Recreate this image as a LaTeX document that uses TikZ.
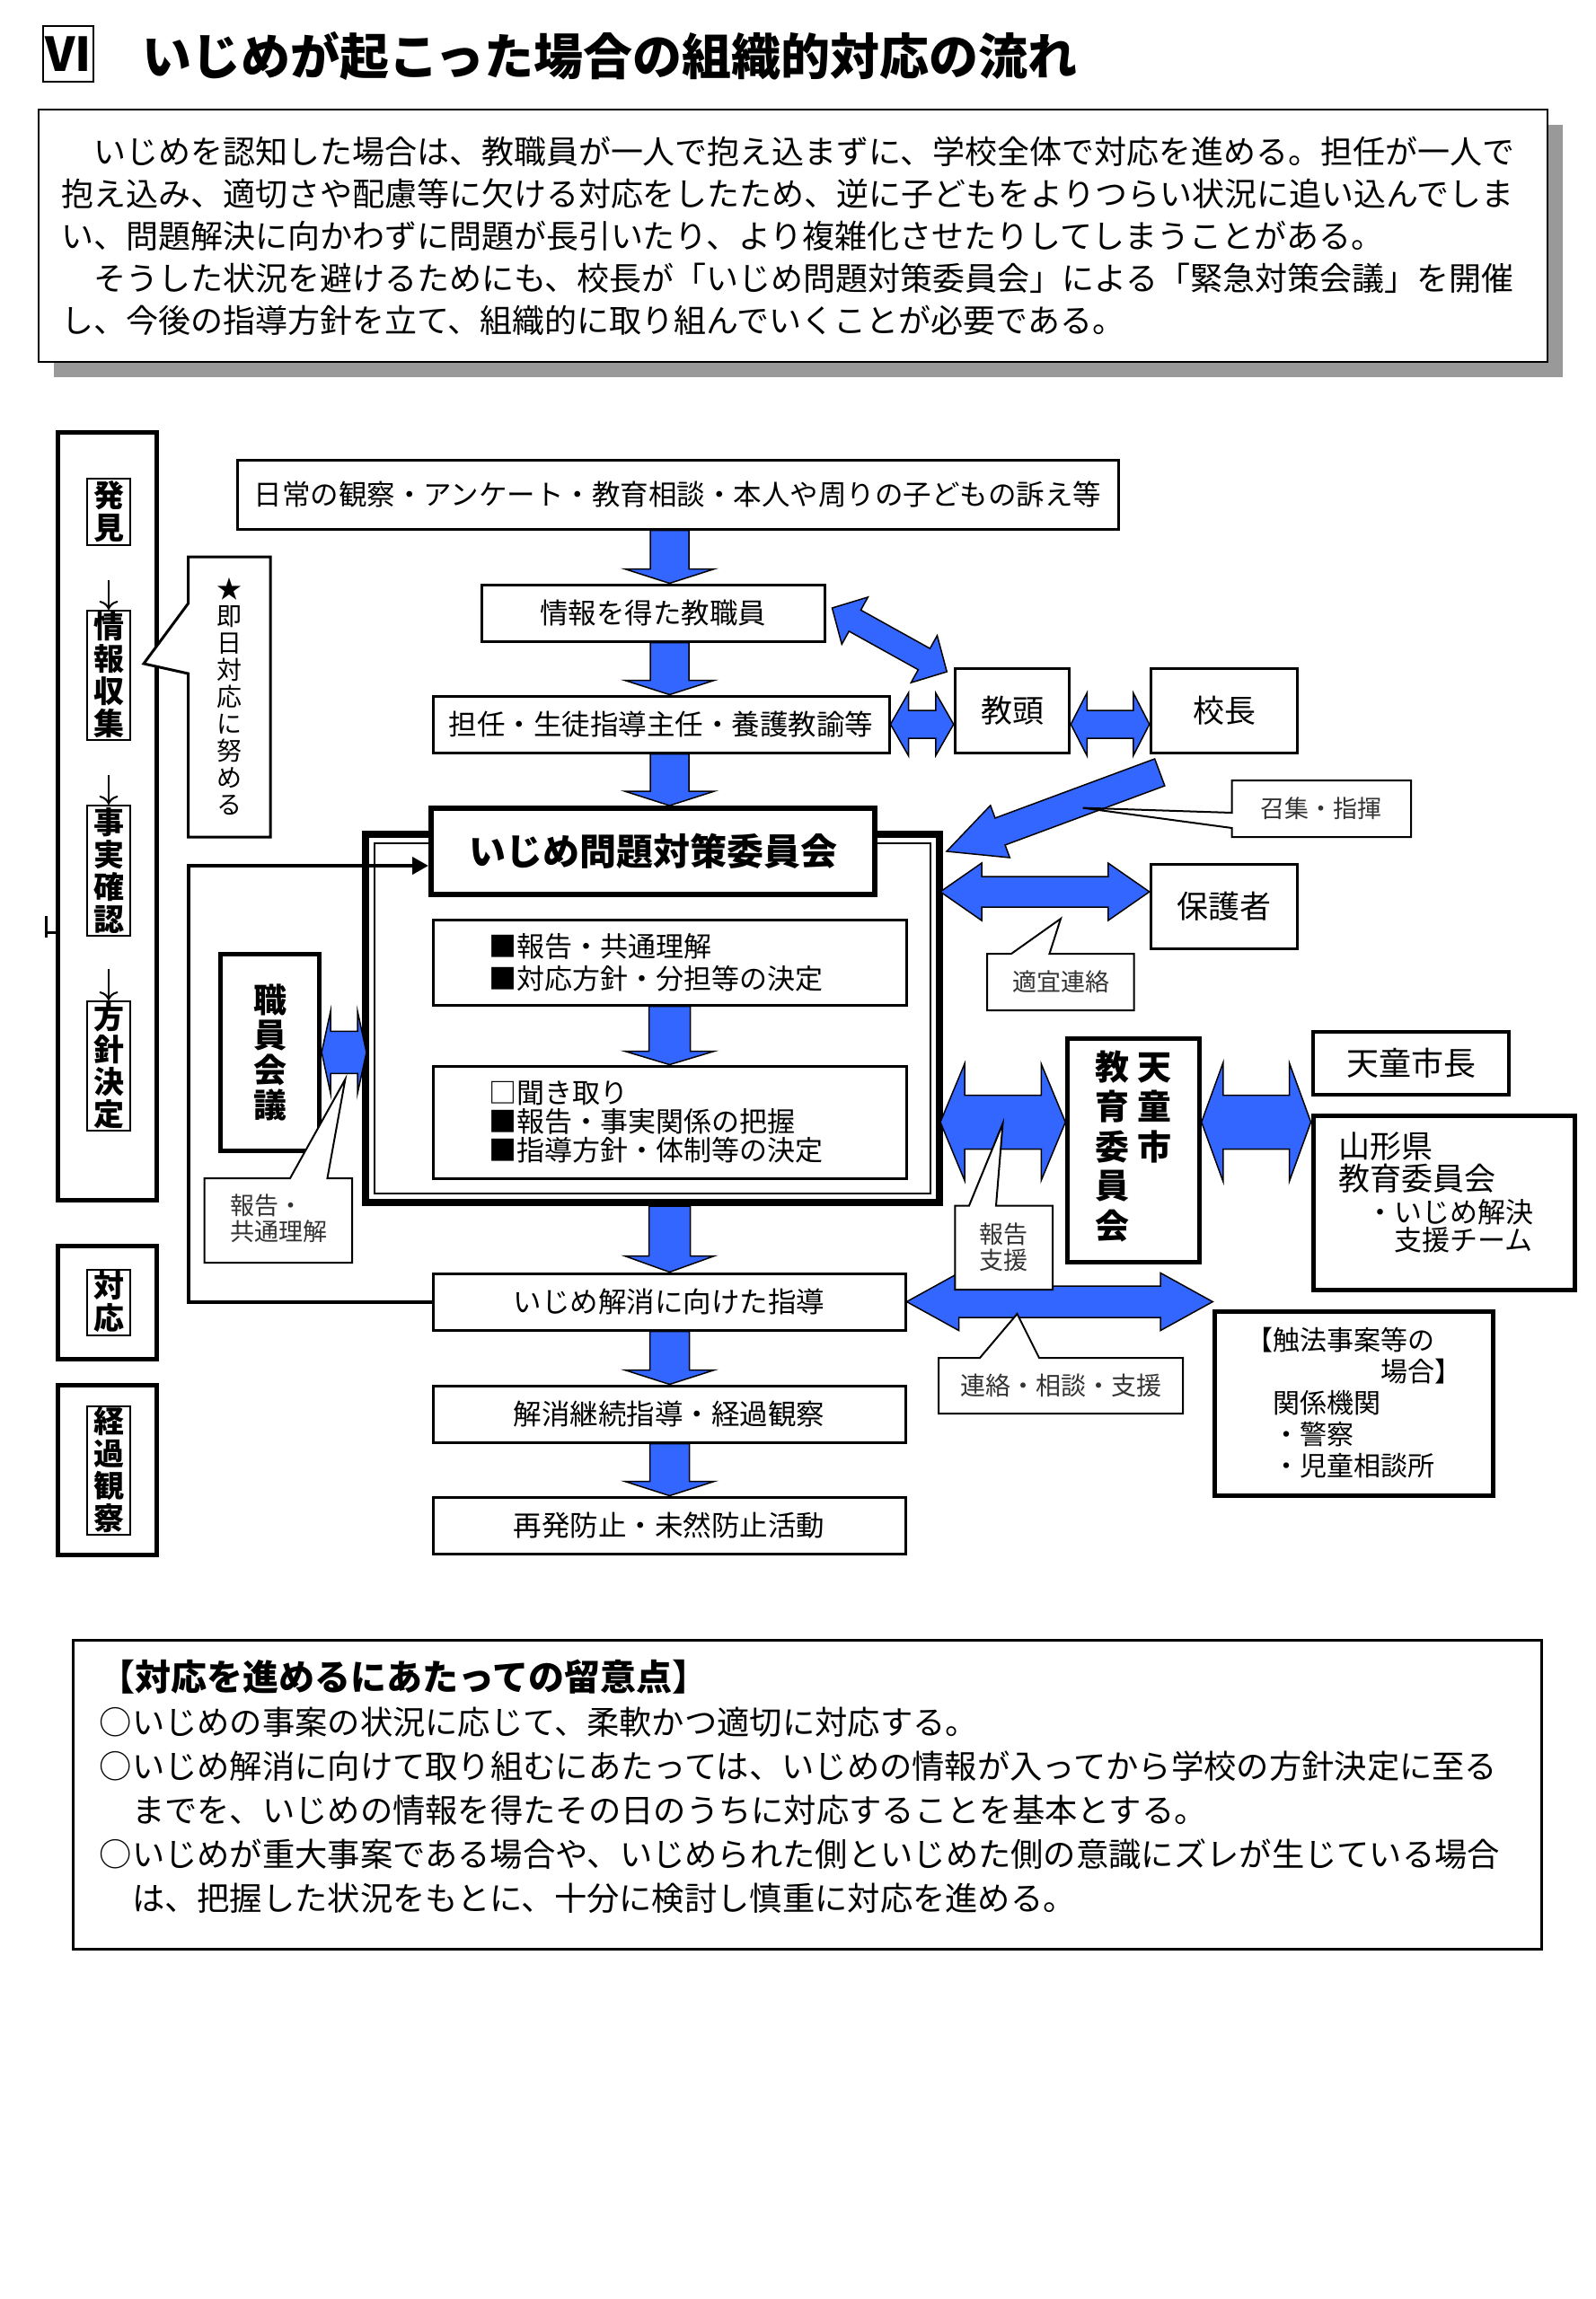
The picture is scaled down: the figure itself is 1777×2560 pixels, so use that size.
\documentclass[tikz,border=0pt]{standalone}
\usepackage{fontspec}
\setmainfont{Noto Sans CJK JP}
\usepackage{xcolor}
\usepackage{tikz}
\usetikzlibrary{calc,arrows.meta,shadows}

\definecolor{arrowblue}{RGB}{51,102,255}
\newcommand{\fsz}[2]{\fontsize{#1mm}{#2mm}\selectfont}

\newcommand{\fatarrow}[5]{%
  \coordinate (fa-a) at (#1);
  \coordinate (fa-b) at (#2);
  \coordinate (fa-h) at ($(fa-b)!#5!(fa-a)$);
  \filldraw[fat] ($(fa-a)!#3!90:(fa-b)$) -- ($(fa-h)!#3!90:(fa-b)$) -- ($(fa-h)!#4!90:(fa-b)$) -- (fa-b)
    -- ($(fa-h)!#4!-90:(fa-b)$) -- ($(fa-h)!#3!-90:(fa-b)$) -- ($(fa-a)!#3!-90:(fa-b)$) -- cycle;}

\newcommand{\fatdblarrow}[5]{%
  \coordinate (fd-a) at (#1);
  \coordinate (fd-b) at (#2);
  \coordinate (fd-ha) at ($(fd-a)!#5!(fd-b)$);
  \coordinate (fd-hb) at ($(fd-b)!#5!(fd-a)$);
  \filldraw[fat] (fd-a) -- ($(fd-ha)!#4!90:(fd-b)$) -- ($(fd-ha)!#3!90:(fd-b)$) -- ($(fd-hb)!#3!-90:(fd-a)$)
    -- ($(fd-hb)!#4!-90:(fd-a)$) -- (fd-b) -- ($(fd-hb)!#4!90:(fd-a)$) -- ($(fd-hb)!#3!90:(fd-a)$)
    -- ($(fd-ha)!#3!-90:(fd-b)$) -- ($(fd-ha)!#4!-90:(fd-b)$) -- cycle;}

\begin{document}
\begin{tikzpicture}[x=0.1mm, y=-0.1mm,
  box/.style={draw, fill=white, line width=0.3mm, inner sep=0pt, font=\fsz{3.15}{3.6}},
  bbox/.style={box, line width=0.5mm},
  wh/.style 2 args={minimum width=#1mm, minimum height=#2mm},
  stagebox/.style={draw, line width=0.5mm, inner sep=0pt, minimum width=11mm},
  stagelabel/.style={draw, line width=0.2mm, inner sep=0pt, minimum width=4.8mm, align=center, font=\bfseries\fsz{3.4}{3.6}},
  callout/.style={draw, fill=white, line width=0.2mm, line join=miter},
  note/.style={align=center, text=black!80, font=\fsz{2.7}{2.9}},
  fat/.style={fill=arrowblue, draw=black, line width=0.15mm, line join=miter}]
\useasboundingbox (0,0) rectangle (1777,2560);

% title
\node[draw, line width=0.2mm, inner sep=0pt, wh={5.6}{6.2}, font=\bfseries\fsz{5.2}{5.2}] (vi) at (76,60) {VI};
\node[anchor=west, inner sep=0pt, font=\bfseries\fsz{5.5}{5.5}] (title) at (158,62) {いじめが起こった場合の組織的対応の流れ};

\node[draw, fill=white, line width=0.25mm, inner xsep=2.5mm, inner ysep=0pt, minimum height=28.1mm, text width=163mm, align=left, font=\fsz{3.6}{4.7},
  drop shadow={shadow xshift=1.7mm, shadow yshift=-1.7mm, fill=black!40, opacity=1}] (intro) at (883,262.5) {%
　いじめを認知した場合は、教職員が一人で抱え込まずに、学校全体で対応を進める。担任が一人で\\
抱え込み、適切さや配慮等に欠ける対応をしたため、逆に子どもをよりつらい状況に追い込んでしま\\
い、問題解決に向かわずに問題が長引いたり、より複雑化させたりしてしまうことがある。\\
　そうした状況を避けるためにも、校長が「いじめ問題対策委員会」による「緊急対策会議」を開催\\
し、今後の指導方針を立て、組織的に取り組んでいくことが必要である。};

% left column
\node[stagebox, minimum height=85.5mm] (stage) at (119,908.5) {};
\node[stagelabel, minimum height=7.4mm] (hakken) at (121,570) {発\\見};
\node[stagelabel, minimum height=14.4mm, node distance=18.2mm, below of=hakken] (joho) {情\\報\\収\\集};
\node[stagelabel, minimum height=14.5mm, node distance=21.75mm, below of=joho] (jijitsu) {事\\実\\確\\認};
\node[stagelabel, minimum height=14.4mm, node distance=21.75mm, below of=jijitsu] (hoshin) {方\\針\\決\\定};
\draw[->, line width=0.2mm, shorten <=3.8mm] (hakken) -- (joho);
\draw[->, line width=0.2mm, shorten <=3.8mm] (joho) -- (jijitsu);
\draw[->, line width=0.2mm, shorten <=3.6mm] (jijitsu) -- (hoshin);
\draw[line width=0.3mm] (51.5,1019.5) -- (51.5,1043.6) (51.5,1038) -- (64,1038);

\node[stagebox, minimum height=12.6mm] (taio) at (119,1450) {};
\node[stagelabel, minimum height=7.3mm] (taio_l) at (121,1450) {対\\応};
\node[stagebox, minimum height=18.9mm] (keika) at (119,1636.5) {};
\node[stagelabel, minimum height=14.3mm] (keika_l) at (121,1637) {経\\過\\観\\察};

\draw[callout, line width=0.3mm] (209.5,620) -- (301,620) -- (301,932) -- (209.5,932) -- (209.5,750) -- (160,739) -- (209.5,672) -- cycle;
\node[note, text=black, font=\fsz{2.8}{3.0}] (sokujitsu) at (255,776) {★\\即\\日\\対\\応\\に\\努\\め\\る};

\node[bbox, wh={11}{21.85}, align=center, font=\bfseries\fsz{3.7}{3.9}] (shokuin) at (300.6,1171.75) {職\\員\\会\\議};

% main column
\node[draw, line width=0.8mm, inner sep=0pt, wh={63.9}{41}] (frame) at (726.5,1134) {};
\draw[line width=0.2mm] ($(frame.north west)+(14,14)$) rectangle ($(frame.south east)+(-14,-14)$);

\node[box, wh={98.1}{7.7}] (obs) at (754.5,550.5) {日常の観察・アンケート・教育相談・本人や周りの子どもの訴え等};
\node[box, wh={38.2}{6.3}, node distance=13.2mm, below of=obs, xshift=-2.75mm] (info) {情報を得た教職員};
\node[box, wh={50.8}{6.3}, node distance=12.4mm, below of=info, xshift=0.9mm] (tannin) {担任・生徒指導主任・養護教諭等};
\node[box, line width=0.6mm, wh={49.4}{9.6}, font=\bfseries\fsz{4.1}{4.1}, node distance=14.15mm, below of=tannin, xshift=-0.9mm] (iinkai) {いじめ問題対策委員会};
\node[box, minimum height=9.5mm, text width=40.3mm, inner xsep=6.2mm, align=left, font=\fsz{3.1}{3.6}, node distance=12.35mm, below of=iinkai, xshift=1.85mm] (hokoku) {■報告・共通理解\\■対応方針・分担等の決定};
\node[box, minimum height=12.5mm, text width=40.3mm, inner xsep=6.2mm, align=left, font=\fsz{3.1}{3.2}, node distance=17.8mm, below of=hokoku] (kikitori) {□聞き取り\\■報告・事実関係の把握\\■指導方針・体制等の決定};
\node[box, wh={52.6}{6.3}, node distance=20mm, below of=kikitori, xshift=-0.05mm] (kaisho) {いじめ解消に向けた指導};
\node[box, wh={52.6}{6.3}, node distance=12.5mm, below of=kaisho] (keizoku) {解消継続指導・経過観察};
\node[box, wh={52.6}{6.3}, node distance=12.4mm, below of=keizoku] (saihatsu) {再発防止・未然防止活動};

\coordinate (loop) at (209.5,964);
\draw[line width=0.4mm, -{Triangle[length=1.8mm,width=1.9mm]}] (kaisho.west) -| (loop) -- (iinkai.west |- loop);

% right side
\node[box, wh={12.75}{9.4}, font=\fsz{3.5}{3.5}] (kyoto) at (1127,791) {教頭};
\node[box, wh={16.35}{9.4}, font=\fsz{3.5}{3.5}, node distance=23.6mm, right of=kyoto] (kocho) {校長};
\node[box, wh={16.35}{9.4}, font=\fsz{3.5}{3.5}, node distance=21.8mm, below of=kocho] (hogosha) {保護者};
\node[bbox, wh={14.65}{24.9}, font=\bfseries\fsz{3.8}{4.0}] (tendo) at (1262,1280.5) {\begin{tabular}{@{}c@{\hspace{0.9mm}}c@{}}教&天\\育&童\\委&市\\員&\\会&\end{tabular}};
\node[box, line width=0.4mm, wh={21.8}{7}, font=\fsz{3.6}{3.6}] (shicho) at (1571,1184) {天童市長};
\node[bbox, wh={29.1}{19.4}, node distance=15.5mm, below of=shicho, xshift=3.65mm] (yamagata) {};
\node[anchor=west, align=left, inner sep=0pt, font=\fsz{3.5}{3.6}] (yamagata_t) at (1490,1328) {山形県\\教育委員会\\{\fsz{3.1}{3.6}　・いじめ解決}\\[-0.5mm]{\fsz{3.1}{3.6}　　支援チーム}};
\node[bbox, wh={31}{20.5}, align=left, font=\fsz{3.0}{3.5}] (shokuho) at (1507.7,1562.5) {【触法事案等の\\　　　　　場合】\\　関係機関\\　・警察\\　・児童相談所};

% blue arrows
\coordinate (col) at (745.5,0);
\fatarrow{obs.south -| col}{info.north -| col}{2.15mm}{5mm}{1.6mm}
\fatarrow{info.south -| col}{tannin.north -| col}{2.15mm}{5mm}{1.6mm}
\fatarrow{tannin.south -| col}{iinkai.north -| col}{2.15mm}{5mm}{1.6mm}
\fatarrow{hokoku.south -| col}{kikitori.north -| col}{2.3mm}{5mm}{1.5mm}
\fatarrow{frame.south -| col}{kaisho.north -| col}{2.3mm}{5mm}{1.8mm}
\fatarrow{kaisho.south -| col}{keizoku.north -| col}{2.2mm}{5mm}{1.6mm}
\fatarrow{keizoku.south -| col}{saihatsu.north -| col}{2.2mm}{5mm}{1.6mm}

\fatdblarrow{tannin.east}{kyoto.west |- tannin.east}{1.55mm}{3.5mm}{2mm}
\fatdblarrow{kyoto.east |- tannin.east}{kocho.west |- tannin.east}{1.55mm}{3.5mm}{1.8mm}
\fatdblarrow{$(info.east)+(7,-5.5)$}{$(kyoto.north west)+(-7.5,5.5)$}{1.35mm}{3mm}{2.9mm}
\fatarrow{$(kocho.south west)+(11.5,20.5)$}{$(frame.north east)+(4,23)$}{1.6mm}{3.1mm}{6.35mm}
\fatdblarrow{$(frame.east |- hogosha.west)+(-3,-16)$}{$(hogosha.west)+(0,-16)$}{1.7mm}{3.2mm}{4.6mm}
\fatdblarrow{$(frame.east |- tendo.west)+(-3,-31)$}{$(tendo.west)+(0,-31)$}{3mm}{6.5mm}{2.7mm}
\fatdblarrow{$(tendo.east)+(0,-31)$}{$(yamagata.west |- tendo.east)+(0,-31)$}{3mm}{6.6mm}{2.4mm}
\fatdblarrow{kaisho.east}{shokuho.west |- kaisho.east}{1.75mm}{3.2mm}{5.8mm}
\fatdblarrow{shokuin.east}{$(frame.west |- shokuin.east)+(5,0)$}{2.35mm}{4.6mm}{1mm}

% callouts
\draw[callout] (227.5,1312) -- (323,1312) -- (384.4,1201.8) -- (364.5,1312) -- (392,1312) -- (392,1406) -- (227.5,1406) -- cycle;
\node[note, align=left] (kyotsu) at (310,1356.5) {報告・\\共通理解};
\draw[callout] (1371.7,869) -- (1571,869) -- (1571,932) -- (1371.7,932) -- (1371.7,922) -- (1205.6,899.6) -- (1371.7,905) -- cycle;
\node[note] (shoshu) at (1471,900.5) {召集・指揮};
\draw[callout] (1099,1062) -- (1126,1062) -- (1181,1023) -- (1168.5,1062) -- (1262.6,1062) -- (1262.6,1125) -- (1099,1125) -- cycle;
\node[note] (tekigi) at (1181,1093.5) {適宜連絡};
\draw[callout] (1063.4,1342.5) -- (1079,1342.5) -- (1116.5,1251) -- (1109,1342.5) -- (1172,1342.5) -- (1172,1436) -- (1063.4,1436) -- cycle;
\node[note] (hokoku_shien) at (1117.5,1389) {報告\\支援};
\draw[callout] (1045,1512) -- (1091,1512) -- (1132.5,1463) -- (1157,1512) -- (1317,1512) -- (1317,1574) -- (1045,1574) -- cycle;
\node[note, font=\fsz{2.8}{2.9}] (renraku) at (1181,1543) {連絡・相談・支援};

% notes
\node[draw, line width=0.3mm, wh={163.5}{34.4}] (notes) at (899.4,1998) {};
\node[anchor=west, align=left, inner sep=0pt, font=\fsz{3.63}{4.9}] (notes_t) at (110,1989) {{\bfseries\fsz{4.0}{4.9}【対応を進めるにあたっての留意点】}\\○いじめの事案の状況に応じて、柔軟かつ適切に対応する。\\○いじめ解消に向けて取り組むにあたっては、いじめの情報が入ってから学校の方針決定に至る\\　までを、いじめの情報を得たその日のうちに対応することを基本とする。\\○いじめが重大事案である場合や、いじめられた側といじめた側の意識にズレが生じている場合\\　は、把握した状況をもとに、十分に検討し慎重に対応を進める。};
\end{tikzpicture}
\end{document}
